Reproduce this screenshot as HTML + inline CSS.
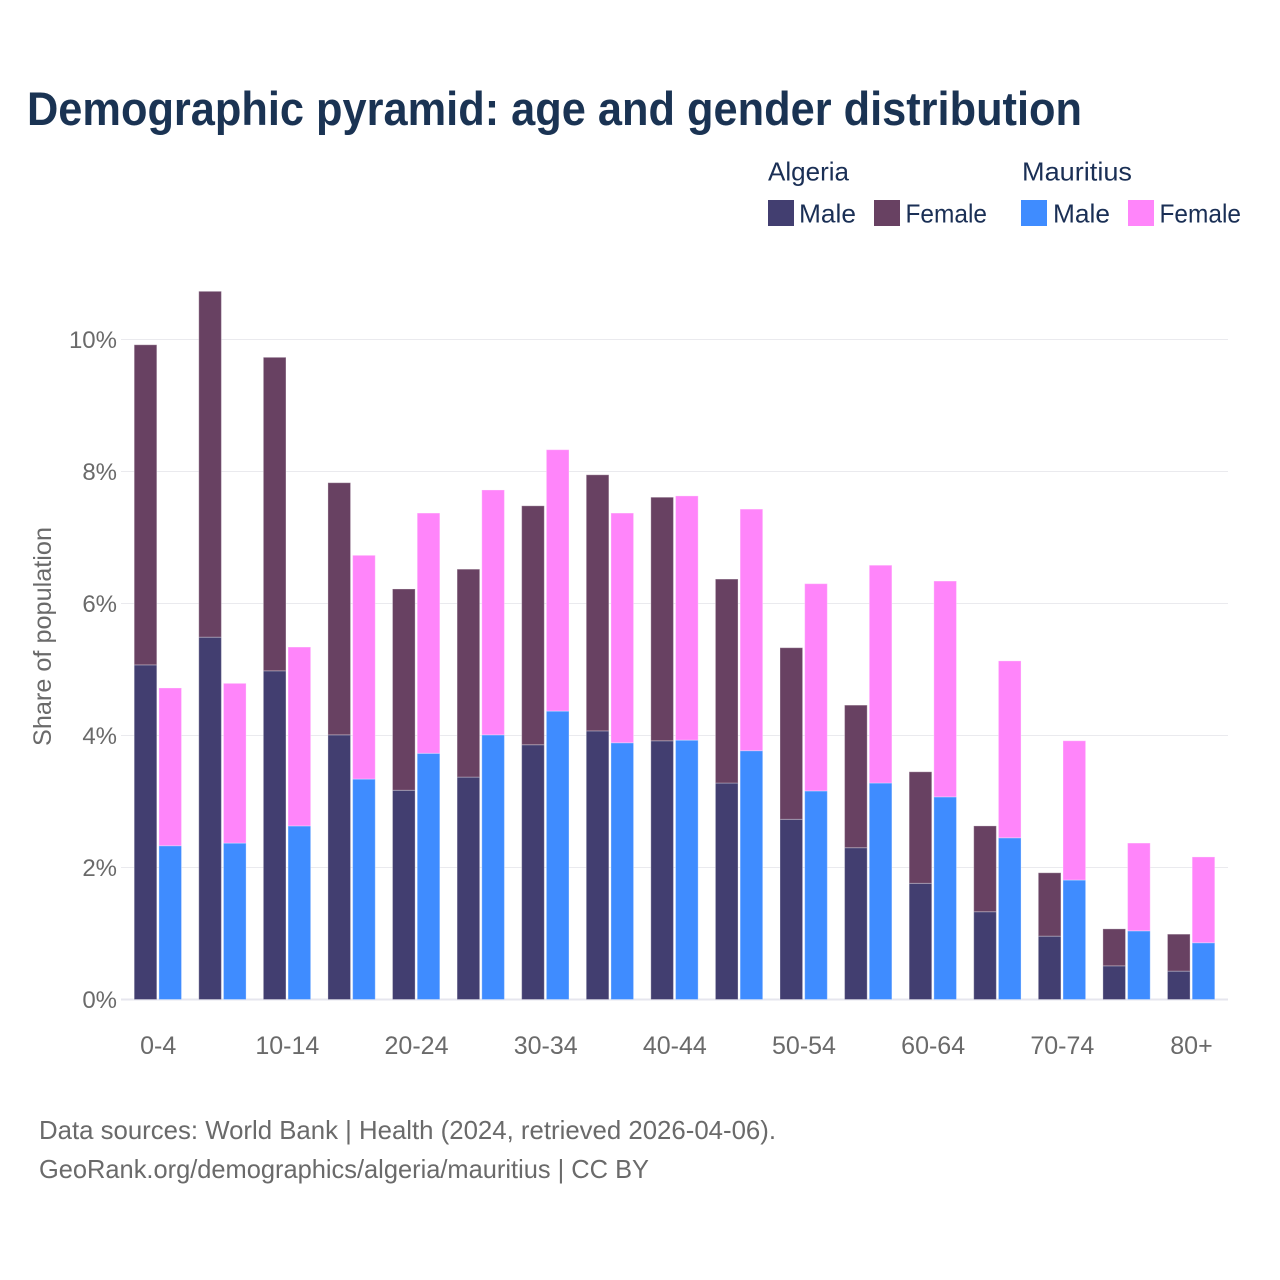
<!DOCTYPE html>
<html lang="en">
<head>
<meta charset="utf-8">
<title>Demographic pyramid: age and gender distribution</title>
<style>
html,body{margin:0;padding:0;background:#fff;}
svg{display:block;font-family:"Liberation Sans",sans-serif;}
</style>
</head>
<body>
<svg id="chart" width="1280" height="1280" viewBox="0 0 1280 1280" xmlns="http://www.w3.org/2000/svg">
  <rect x="0" y="0" width="1280" height="1280" fill="#ffffff"/>
  <text x="27" y="125" font-size="47" font-weight="700" fill="#1a3353" textLength="1055" lengthAdjust="spacingAndGlyphs">Demographic pyramid: age and gender distribution</text>

  <g font-size="26" fill="#1a2f55">
    <text x="768" y="180.5" textLength="81" lengthAdjust="spacingAndGlyphs">Algeria</text>
    <text x="1022" y="180.5" textLength="110" lengthAdjust="spacingAndGlyphs">Mauritius</text>
    <rect x="768" y="200" width="26" height="26" fill="#423e70"/>
    <text x="799" y="222.5" textLength="57" lengthAdjust="spacingAndGlyphs">Male</text>
    <rect x="874" y="200" width="26" height="26" fill="#684162"/>
    <text x="905.5" y="222.5" textLength="81.5" lengthAdjust="spacingAndGlyphs">Female</text>
    <rect x="1021" y="200" width="26" height="26" fill="#3f8cff"/>
    <text x="1053" y="222.5" textLength="57" lengthAdjust="spacingAndGlyphs">Male</text>
    <rect x="1128" y="200" width="26" height="26" fill="#ff85fa"/>
    <text x="1159.5" y="222.5" textLength="81.5" lengthAdjust="spacingAndGlyphs">Female</text>
  </g>

  <g id="grid"></g>
  <g id="bars"></g>
  <g id="yticks"></g>
  <g id="xticks"></g>

  <text transform="translate(51,746) rotate(-90)" x="0" y="0" font-size="25" fill="#6a6a6a" textLength="219" lengthAdjust="spacingAndGlyphs">Share of population</text>

  <text x="39" y="1139" font-size="26" fill="#6a6a6a" textLength="737" lengthAdjust="spacingAndGlyphs">Data sources: World Bank | Health (2024, retrieved 2026-04-06).</text>
  <text x="39" y="1178" font-size="26" fill="#6a6a6a" textLength="610" lengthAdjust="spacingAndGlyphs">GeoRank.org/demographics/algeria/mauritius | CC BY</text>
</svg>
<script>
const categories = ["0-4","5-9","10-14","15-19","20-24","25-29","30-34","35-39","40-44","45-49","50-54","55-59","60-64","65-69","70-74","75-79","80+"];
const algeriaMale = [5.07,5.49,4.98,4.01,3.17,3.37,3.86,4.07,3.92,3.28,2.73,2.30,1.76,1.33,0.96,0.51,0.43];
const algeriaFemale = [4.85,5.24,4.75,3.82,3.05,3.15,3.62,3.88,3.69,3.09,2.60,2.16,1.69,1.30,0.96,0.56,0.56];
const mauritiusMale = [2.33,2.37,2.63,3.34,3.73,4.01,4.37,3.89,3.93,3.77,3.16,3.28,3.07,2.45,1.81,1.04,0.86];
const mauritiusFemale = [2.39,2.42,2.71,3.39,3.64,3.71,3.96,3.48,3.70,3.66,3.14,3.30,3.27,2.68,2.11,1.33,1.30];
const yTickValues = [0,2,4,6,8,10];

const NS = "http://www.w3.org/2000/svg";
function yScale(v){ return 999.5 - v * 66; }
function xCenter(i){ return 158.2 + i * 64.58; }

function makeBar(parent, x, v0, v1, color){
  const r = document.createElementNS(NS, "rect");
  const top = yScale(v0 + v1);
  r.setAttribute("x", x);
  r.setAttribute("y", top);
  r.setAttribute("width", 22.6);
  r.setAttribute("height", yScale(v0) - top);
  r.setAttribute("fill", color);
  r.setAttribute("stroke", "#ffffff");
  r.setAttribute("stroke-opacity", "0.3");
  r.setAttribute("stroke-width", "1");
  parent.appendChild(r);
  return r;
}

const gridG = document.getElementById("grid");
const yG = document.getElementById("yticks");
yTickValues.forEach(function(t){
  const line = document.createElementNS(NS, "line");
  
  
  line.setAttribute("x1", 121);
  line.setAttribute("x2", 1228);
  line.setAttribute("y1", yScale(t));
  line.setAttribute("y2", yScale(t));
  line.setAttribute("stroke", t === 0 ? "#e6e6ee" : "#eaeaee");
  line.setAttribute("stroke-width", t === 0 ? 2 : 1);
  gridG.appendChild(line);

  const label = document.createElementNS(NS, "text");
  
  
  label.setAttribute("x", 117);
  label.setAttribute("y", yScale(t) + 8.5);
  label.setAttribute("text-anchor", "end");
  label.setAttribute("font-size", 24);
  label.setAttribute("fill", "#6a6a6a");
  label.textContent = t + "%";
  yG.appendChild(label);
});

const barsG = document.getElementById("bars");
const xG = document.getElementById("xticks");
categories.forEach(function(cat, i){
  const c = xCenter(i);
  const g = document.createElementNS(NS, "g");
  
  
  barsG.appendChild(g);

  const am = makeBar(g, c - 24, 0, algeriaMale[i], "#423e70");
  
  
  const af = makeBar(g, c - 24, algeriaMale[i], algeriaFemale[i], "#684162");
  
  
  const mm = makeBar(g, c + 0.7, 0, mauritiusMale[i], "#3f8cff");
  
  
  const mf = makeBar(g, c + 0.7, mauritiusMale[i], mauritiusFemale[i], "#ff85fa");
  
  

  if (i % 2 === 0) {
    const label = document.createElementNS(NS, "text");
    
    
    label.setAttribute("x", c);
    label.setAttribute("y", 1054);
    label.setAttribute("text-anchor", "middle");
    label.setAttribute("font-size", 25);
    label.setAttribute("fill", "#6a6a6a");
    label.textContent = cat;
    xG.appendChild(label);
  }
});
</script>
</body>
</html>
